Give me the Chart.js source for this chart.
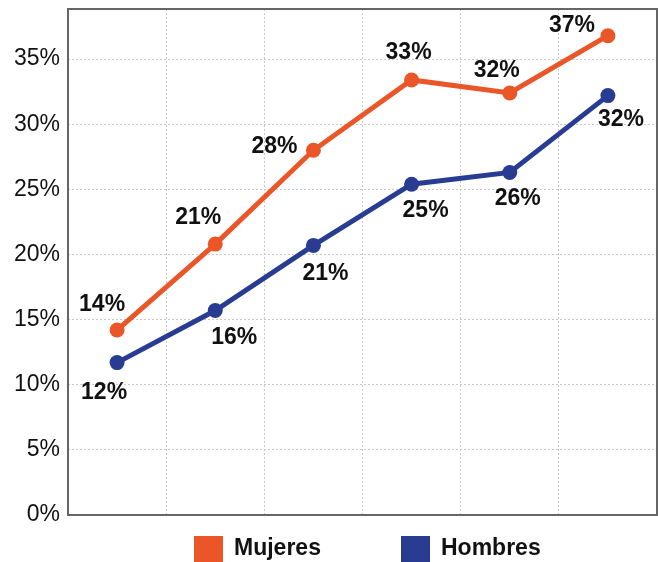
<!doctype html>
<html>
  <head>
    <title>Mujeres y Hombres</title>
    <style>
      body { margin: 0; background: #fff; }
      #wrap { width: 658px; height: 562px; }
    </style>
  </head>
  <body>
    <div id="wrap">
      <canvas id="myChart"></canvas>
    </div>
  </body>
  <script src="https://cdn.jsdelivr.net/npm/chart.js"></script>
  <script>
    // data
    const categories = ['1', '2', '3', '4', '5', '6'];
    const mujeres = [14.2, 20.8, 28.0, 33.4, 32.4, 36.8];
    const hombres = [11.7, 15.7, 20.7, 25.4, 26.3, 32.2];
    const yTicks = [0, 5, 10, 15, 20, 25, 30, 35];

    const ORANGE = '#EA5628';
    const BLUE = '#283D92';

    // where each value label sits relative to its point
    const labelOffsets = [
      [[-15, -25], [-17, -26], [-39, -4], [-3, -27], [-13, -22], [-36, -10]],
      [[-13, 30], [19, 27], [12, 28], [14, 26], [8, 26], [13, 24]]
    ];

    const valueLabels = {
      id: 'valueLabels',
      afterDatasetsDraw(chart) {
        const c = chart.ctx;
        c.save();
        c.font = 'bold 23px "Liberation Sans", Arial, sans-serif';
        c.fillStyle = '#111';
        c.textAlign = 'center';
        c.textBaseline = 'middle';
        chart.data.datasets.forEach((ds, di) => {
          chart.getDatasetMeta(di).data.forEach((pt, i) => {
            const off = labelOffsets[di][i];
            c.fillText(Math.round(ds.data[i]) + '%', pt.x + off[0], pt.y + off[1]);
          });
        });
        c.restore();
      }
    };

    const frameAndLegend = {
      id: 'frameAndLegend',
      beforeDatasetsDraw(chart) {
        const a = chart.chartArea;
        const c = chart.ctx;
        c.save();
        c.strokeStyle = '#666';
        c.lineWidth = 2;
        c.strokeRect(a.left, a.top, a.right - a.left, a.bottom - a.top);
        c.restore();
      },
      afterDraw(chart) {
        const c = chart.ctx;
        const xs = [194, 401];
        c.save();
        c.font = 'bold 23px "Liberation Sans", Arial, sans-serif';
        c.textBaseline = 'middle';
        c.textAlign = 'left';
        chart.data.datasets.forEach((ds, di) => {
          c.fillStyle = ds.borderColor;
          c.fillRect(xs[di], 536, 29, 29);
          c.fillStyle = '#111';
          c.fillText(ds.label, xs[di] + 40, 549);
        });
        c.restore();
      }
    };

    const ctx = document.getElementById('myChart');
    const chart = new Chart(ctx, {
      type: 'line',
      data: {
        labels: categories,
        datasets: [
          {
            label: 'Mujeres',
            data: mujeres,
            borderColor: ORANGE,
            backgroundColor: ORANGE,
            borderWidth: 5,
            pointRadius: 7.5,
            pointHoverRadius: 7.5,
            pointBorderWidth: 0
          },
          {
            label: 'Hombres',
            data: hombres,
            borderColor: BLUE,
            backgroundColor: BLUE,
            borderWidth: 5,
            pointRadius: 7.5,
            pointHoverRadius: 7.5,
            pointBorderWidth: 0
          }
        ]
      },
      options: {
        responsive: true,
        maintainAspectRatio: false,
        animation: false,
        clip: false,
        layout: { autoPadding: false, padding: { top: 9, right: 1, bottom: 47, left: 0 } },
        plugins: {
          legend: { display: false },
          tooltip: { enabled: false }
        },
        scales: {
          x: {
            offset: true,
            grid: {
              offset: true,
              drawTicks: false,
              color: '#c8c8c8',
              lineWidth: 1
            },
            border: { display: false, dash: [2, 2] },
            ticks: { display: false },
            afterFit(scale) {
              scale.height = 0;
              scale.paddingLeft = 0;
              scale.paddingRight = 0;
            }
          },
          y: {
            min: 0,
            max: 38.85,
            grid: {
              drawTicks: false,
              color: '#c8c8c8',
              lineWidth: 1
            },
            border: { display: false, dash: [2, 2] },
            ticks: {
              padding: 8,
              color: '#111',
              font: { family: '"Liberation Sans", Arial, sans-serif', size: 23 },
              callback: (v) => v + '%'
            },
            afterBuildTicks(scale) {
              scale.ticks = yTicks.map(v => ({ value: v }));
            },
            afterFit(scale) {
              scale.width = 68;
              scale.paddingTop = 0;
              scale.paddingBottom = 0;
            }
          }
        }
      },
      plugins: [frameAndLegend, valueLabels]
    });
  </script>
</html>
